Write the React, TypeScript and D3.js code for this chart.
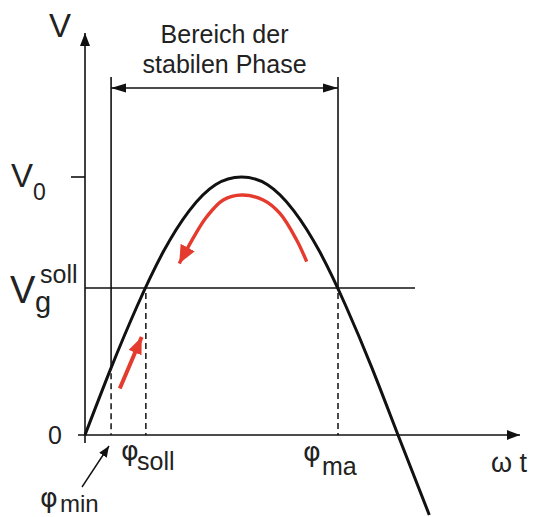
import * as d3 from "d3";

const phases = [0, 15, 30, 45, 60, 75, 90, 105, 120, 135, 150, 165, 180, 198];
const voltage = [0, 0.26, 0.5, 0.71, 0.87, 0.97, 1, 0.97, 0.87, 0.71, 0.5, 0.26, 0, -0.31];

// marked phases and levels
const phiMin = 15;
const phiSoll = 35;
const phiMa = 145.5;
const vSoll = 0.57;
const v0 = 1;

// red arrows (phase, V)
const arcPhase = [127.5, 121.7, 112.1, 102.5, 90.1, 79.5, 70, 63.2, 54.2];
const arcV = [0.672, 0.756, 0.859, 0.911, 0.93, 0.911, 0.846, 0.775, 0.665];
const risePhase = [20, 32.6];
const riseV = [0.18, 0.38];

const rangeLabel = ["Bereich der", "stabilen Phase"];

const W = 534;
const H = 517;
const font = "'Liberation Sans', Arial, sans-serif";
const greek = "'DejaVu Sans', sans-serif";
const red = "#e53a2e";
const ink = "#111";

export default function App() {
  const x = d3.scaleLinear().domain([0, 180]).range([85, 398]);
  const y = d3.scaleLinear().domain([0, 1]).range([435, 177]);

  const pts = phases.map((p, i) => [p, voltage[i]] as [number, number]);
  const line = d3
    .line<[number, number]>()
    .x((d) => x(d[0]))
    .y((d) => y(d[1]))
    .curve(d3.curveNatural);
  const arcLine = d3
    .line<[number, number]>()
    .x((d) => x(d[0]))
    .y((d) => y(d[1]))
    .curve(d3.curveCatmullRom.alpha(0.5));

  const arc = arcPhase.map((p, i) => [p, arcV[i]] as [number, number]);
  const rise = risePhase.map((p, i) => [p, riseV[i]] as [number, number]);

  const vMin = Math.sin((phiMin * Math.PI) / 180); // where the left bracket meets the curve
  const x0 = x(0);
  const yAxis = y(0);
  const topBracket = 77;
  const arrowY = 88;

  return (
    <svg width={W} height={H} style={{ position: "absolute", left: 0, top: 0 }}>
      <defs>
        <marker id="ax" markerUnits="userSpaceOnUse" markerWidth="14" markerHeight="12"
          refX="13" refY="6" orient="auto">
          <path d="M0,1 L13,6 L0,11 Z" fill={ink} />
        </marker>
        <marker id="dim" markerUnits="userSpaceOnUse" markerWidth="16" markerHeight="10"
          refX="15" refY="5" orient="auto-start-reverse">
          <path d="M0,0.5 L15,5 L0,9.5 Z" fill={ink} />
        </marker>
        <marker id="ptr" markerUnits="userSpaceOnUse" markerWidth="12" markerHeight="10"
          refX="11" refY="5" orient="auto">
          <path d="M0,0.5 L11,5 L0,9.5 Z" fill={ink} />
        </marker>
        <marker id="redSmall" markerUnits="userSpaceOnUse" markerWidth="18" markerHeight="14"
          refX="17" refY="7" orient="auto">
          <path d="M0,0 L17,7 L0,14 Z" fill={red} />
        </marker>
        <marker id="redBig" markerUnits="userSpaceOnUse" markerWidth="20" markerHeight="16"
          refX="18" refY="8" orient="auto">
          <path d="M0,0 L18,8 L0,16 Z" fill={red} />
        </marker>
      </defs>

      {/* axes */}
      <line x1={x0} y1={443} x2={x0} y2={33} stroke={ink} strokeWidth={1.6} markerEnd="url(#ax)" />
      <line x1={78} y1={yAxis} x2={520} y2={yAxis} stroke={ink} strokeWidth={1.6} markerEnd="url(#ax)" />
      <line x1={71} y1={y(v0)} x2={x0} y2={y(v0)} stroke={ink} strokeWidth={1.6} />

      {/* Vg soll level */}
      <line x1={x0} y1={y(vSoll)} x2={415} y2={y(vSoll)} stroke={ink} strokeWidth={1.6} />

      {/* bracket lines */}
      <line x1={x(phiMin)} y1={topBracket} x2={x(phiMin)} y2={y(vMin)} stroke={ink} strokeWidth={1.6} />
      <line x1={x(phiMin)} y1={y(vMin) + 5} x2={x(phiMin)} y2={yAxis} stroke={ink} strokeWidth={1.5} strokeDasharray="6 4" />
      <line x1={x(phiMa)} y1={topBracket} x2={x(phiMa)} y2={y(vSoll)} stroke={ink} strokeWidth={1.6} />
      <line x1={x(phiMa)} y1={y(vSoll) + 5} x2={x(phiMa)} y2={yAxis} stroke={ink} strokeWidth={1.5} strokeDasharray="6 4" />
      <line x1={x(phiSoll)} y1={y(vSoll) + 5} x2={x(phiSoll)} y2={yAxis} stroke={ink} strokeWidth={1.5} strokeDasharray="6 4" />
      <line x1={x(phiMin)} y1={arrowY} x2={x(phiMa)} y2={arrowY} stroke={ink} strokeWidth={1.6}
        markerStart="url(#dim)" markerEnd="url(#dim)" />

      {/* curve */}
      <path d={line(pts) ?? ""} fill="none" stroke={ink} strokeWidth={3} />

      {/* red motion arrows */}
      <path d={arcLine(arc) ?? ""} fill="none" stroke={red} strokeWidth={3.4} markerEnd="url(#redBig)" />
      <path d={line(rise) ?? ""} fill="none" stroke={red} strokeWidth={4} markerEnd="url(#redSmall)" />

      {/* pointer to phi_min */}
      <line x1={82} y1={487} x2={109} y2={446} stroke={ink} strokeWidth={1.4} markerEnd="url(#ptr)" />

      <g fontFamily={font} fill="#222">
        {rangeLabel.map((t, i) => (
          <text key={t} x={(x(phiMin) + x(phiMa)) / 2} y={43 + i * 30} fontSize={25} textAnchor="middle">
            {t}
          </text>
        ))}
        <text x={60} y={37} fontSize={33} textAnchor="middle">V</text>
        <text x={11} y={187} fontSize={33}>V</text>
        <text x={33} y={200} fontSize={23}>0</text>
        <text x={10} y={303} fontSize={38}>V</text>
        <text x={35} y={312} fontSize={29}>g</text>
        <text x={40} y={283} fontSize={25}>soll</text>
        <text x={48} y={444} fontSize={25}>0</text>

        <text x={121} y={460} fontSize={27} fontFamily={greek}>φ</text>
        <text x={137} y={470} fontSize={25}>soll</text>
        <text x={40} y={507} fontSize={27} fontFamily={greek}>φ</text>
        <text x={60} y={512} fontSize={24}>min</text>
        <text x={303} y={461} fontSize={27} fontFamily={greek}>φ</text>
        <text x={322} y={475} fontSize={25}>ma</text>
        <text x={491} y={472} fontSize={27}>ω t</text>
      </g>
    </svg>
  );
}
